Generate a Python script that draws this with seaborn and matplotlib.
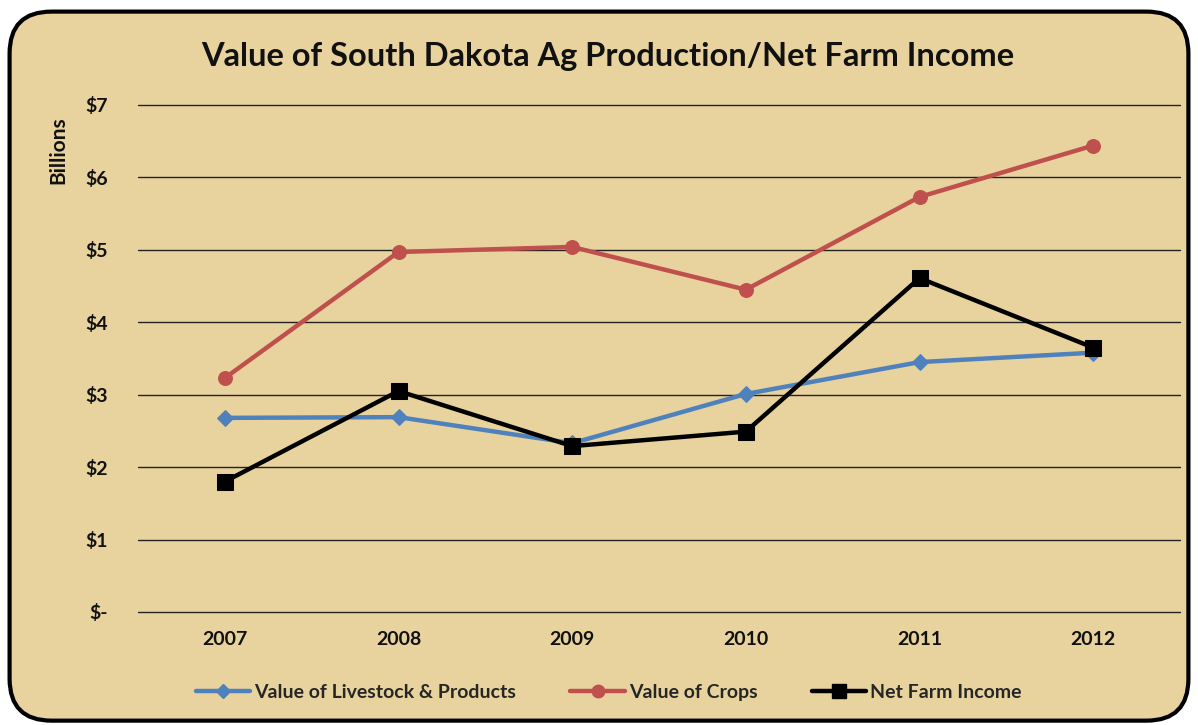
import matplotlib
matplotlib.use("Agg")
import matplotlib.pyplot as plt
import seaborn as sns
import pandas as pd
from matplotlib.patches import FancyBboxPatch
from matplotlib.lines import Line2D

years = ["2007", "2008", "2009", "2010", "2011", "2012"]
livestock = [2.68, 2.69, 2.33, 3.01, 3.45, 3.58]
crops = [3.23, 4.97, 5.04, 4.45, 5.73, 6.44]
net_income = [1.80, 3.05, 2.29, 2.49, 4.61, 3.65]
series_names = ["Value of Livestock & Products", "Value of Crops", "Net Farm Income"]
ytick_vals = [0, 1, 2, 3, 4, 5, 6, 7]
ytick_labels = ["$-", "$1", "$2", "$3", "$4", "$5", "$6", "$7"]

colors = {series_names[0]: "#4F81BD", series_names[1]: "#C0504D", series_names[2]: "#000000"}
markers = {series_names[0]: "D", series_names[1]: "o", series_names[2]: "s"}
msizes = {series_names[0]: 8, series_names[1]: 10, series_names[2]: 11}

df = pd.DataFrame({
    "year": years * 3,
    "value": livestock + crops + net_income,
    "series": [series_names[0]] * 6 + [series_names[1]] * 6 + [series_names[2]] * 6,
})

sns.set_theme(style="white")
plt.rcParams["font.family"] = ["Lato", "DejaVu Sans"]

bg = "#E8D39F"
fig = plt.figure(figsize=(11.98, 7.25), dpi=100)
fig.patch.set_facecolor("white")
border = FancyBboxPatch((0.008, 0.006), 0.984, 0.978,
                        boxstyle="round,pad=0,rounding_size=0.035",
                        transform=fig.transFigure, facecolor=bg,
                        edgecolor="black", linewidth=3, mutation_aspect=1198/725,
                        zorder=-10)
fig.add_artist(border)

ax = fig.add_axes([0.1152, 0.1559, 0.8698, 0.6993])
ax.set_facecolor("none")
ax.set_zorder(5)

for name in series_names:
    sub = df[df["series"] == name]
    sns.lineplot(data=sub, x="year", y="value", ax=ax, color=colors[name],
                 marker=markers[name], markersize=msizes[name], linewidth=3.2,
                 markeredgecolor=colors[name], legend=False, sort=False, zorder=3)

ax.set_xlim(-0.5, 5.5)
ax.set_ylim(0, 7)
ax.set_yticks(ytick_vals)
ax.set_yticklabels(ytick_labels)
ax.yaxis.grid(True, color="#222222", linewidth=1.0)
ax.xaxis.grid(False)
ax.set_axisbelow(True)
for gl in ax.get_ygridlines():
    gl.set_clip_on(False)
for s in ax.spines.values():
    s.set_visible(False)
ax.tick_params(axis="both", length=0, labelsize=14)
ax.tick_params(axis="y", pad=22)
ax.tick_params(axis="x", pad=14)
for lab in ax.get_xticklabels() + ax.get_yticklabels():
    lab.set_fontweight("bold")
    lab.set_color("#111111")
ax.set_xlabel("")
ax.set_ylabel("")

fig.text(0.049, 0.793, "Billions", rotation=90, ha="center", va="center",
         fontsize=15, fontweight="bold", color="#111111")
fig.text(0.507, 0.922, "Value of South Dakota Ag Production/Net Farm Income",
         ha="center", va="center", fontsize=23.5, fontweight="bold", color="#111111")

handles = [Line2D([0], [0], color=colors[n], marker=markers[n], markersize=msizes[n] * 0.9,
                  linewidth=3.2, markeredgecolor=colors[n]) for n in series_names]
fig.legend(handles, series_names, loc="center", bbox_to_anchor=(0.508, 0.045), ncol=3,
           frameon=False, prop={"weight": "bold", "size": 14}, handlelength=2.8,
           columnspacing=2.8, handletextpad=0.2)

fig.savefig("out.png", dpi=100, facecolor=fig.get_facecolor())
